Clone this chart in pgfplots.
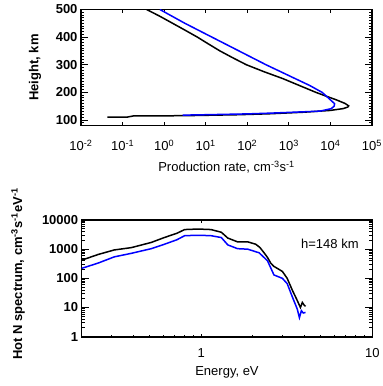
\documentclass[border=0pt]{standalone}
\usepackage{fontspec}
\setmainfont{Liberation Sans}
\usepackage{pgfplots}
\pgfplotsset{compat=1.18}
\definecolor{pblue}{RGB}{0,0,255}
\pgfplotsset{
  idl/.style={
    scale only axis,
    tick align=inside,
    tick pos=both,
    axis line style={line width=1.6pt},
    every tick/.style={black, line width=0.9pt},
    major tick length=7pt,
    minor tick length=3.5pt,
    xtick style={/pgfplots/major tick length=3pt,/pgfplots/minor tick length=1.5pt},
    tick label style={font=\fontsize{13}{15}\selectfont},
    label style={font=\fontsize{13}{15}\selectfont},
  }
}
\begin{document}
\begin{tikzpicture}
\path[use as bounding box] (0pt,0pt) rectangle (383pt,386pt);
% ---------------- top panel
\begin{axis}[idl,
  at={(81pt,260.5pt)}, anchor=south west, width=291pt, height=116pt,
  xmode=log, xmin=1e-2, xmax=1e5, ymin=80, ymax=500,
  xtick={1e-2,1e-1,1e0,1e1,1e2,1e3,1e4,1e5},
  xticklabels={10\textsuperscript{-2},10\textsuperscript{-1},10\textsuperscript{0},10\textsuperscript{1},10\textsuperscript{2},10\textsuperscript{3},10\textsuperscript{4},10\textsuperscript{5}},
  xticklabel style={yshift=-11pt},
  xminorticks=false,
  ytick={100,200,300,400,500},
  yticklabels={\textbf{100},\textbf{200},\textbf{300},\textbf{400},\textbf{500}},
  minor ytick={80,90,110,120,130,140,150,160,170,180,190,210,220,230,240,250,260,270,280,290,310,320,330,340,350,360,370,380,390,410,420,430,440,450,460,470,480,490},
  xlabel={Production rate, cm\textsuperscript{-3}s\textsuperscript{-1}},
  ylabel={\textbf{Height, km}},
  xlabel style={at={(axis description cs:0.5,-0.358)},anchor=center},
  ylabel style={at={(axis description cs:-0.158,0.5)},anchor=center},
]
\addplot[black, line width=1.5pt] coordinates {
(0.043,110) (0.13,110.5) (0.18,114.5) (3,115.5) (60,119) (350,122.5)
(2200,128) (9800,134.5) (20000,141) (26300,147) (27500,151)
(22400,160) (13800,173) (8300,185) (4470,200) (1780,225) (710,250)
(250,275) (95,300) (45,325) (22,350) (11.7,375) (6.3,400) (3.2,425)
(1.6,450) (0.8,475) (0.38,500)
};
\addplot[pblue, line width=1.5pt] coordinates {
(2.8,117.5) (10,119) (100,122) (398,125) (5620,132) (10470,141)
(12300,150) (12590,159) (9330,177) (6310,200) (3160,225) (1410,250)
(282,300) (63,350) (14.1,400) (3.16,450) (0.79,500)
};
\end{axis}
% ---------------- bottom panel
\begin{axis}[idl,
  at={(81.7pt,49.3pt)}, anchor=south west, width=290.6pt, height=116.7pt,
  xmode=log, ymode=log, xmin=0.2, xmax=10, ymin=1, ymax=1e4,
  xtick={1,10}, xticklabels={1,10},
  xticklabel style={yshift=-8pt},
  minor xtick={0.2,0.3,0.4,0.5,0.6,0.7,0.8,0.9,2,3,4,5,6,7,8,9},
  ytick={1,10,100,1000,10000},
  yticklabels={\textbf{1},\textbf{10},\textbf{100},\textbf{1000},\textbf{10000}},
  xlabel={Energy, eV},
  ylabel={\textbf{Hot N spectrum, cm\textsuperscript{-3}s\textsuperscript{-1}eV\textsuperscript{-1}}},
  xlabel style={at={(axis description cs:0.5,-0.302)},anchor=center},
  ylabel style={at={(axis description cs:-0.219,0.537)},anchor=center},
]
\addplot[black, line width=1.5pt] coordinates {
(0.2,420) (0.25,660) (0.31,940) (0.39,1130) (0.51,1700) (0.61,2520)
(0.72,3500) (0.80,4700) (0.96,4900) (1.14,4700) (1.31,3800) (1.43,2400)
(1.63,1780) (1.87,1780) (2.08,1480) (2.2,1150) (2.33,750) (2.44,520)
(2.55,330) (2.66,257) (2.98,173) (3.18,100) (3.41,39) (3.64,17.5)
(3.8,10) (3.9,15) (4.0,12) (4.07,11)
};
\addplot[pblue, line width=1.5pt] coordinates {
(0.2,220) (0.25,335) (0.31,545) (0.39,720) (0.51,1040) (0.61,1480)
(0.72,2100) (0.80,2900) (0.96,3000) (1.14,2900) (1.31,2500) (1.43,1400)
(1.63,1040) (1.87,1000) (2.18,750) (2.44,400) (2.66,131) (2.98,100)
(3.18,66) (3.41,23) (3.64,8.9) (3.75,4.5) (3.85,7.8) (3.95,6.5) (4.07,6.8)
};
\node[anchor=east, font=\fontsize{13}{15}\selectfont] at (rel axis cs:0.965,0.794) {h=148 km};
\end{axis}
\end{tikzpicture}
\end{document}
